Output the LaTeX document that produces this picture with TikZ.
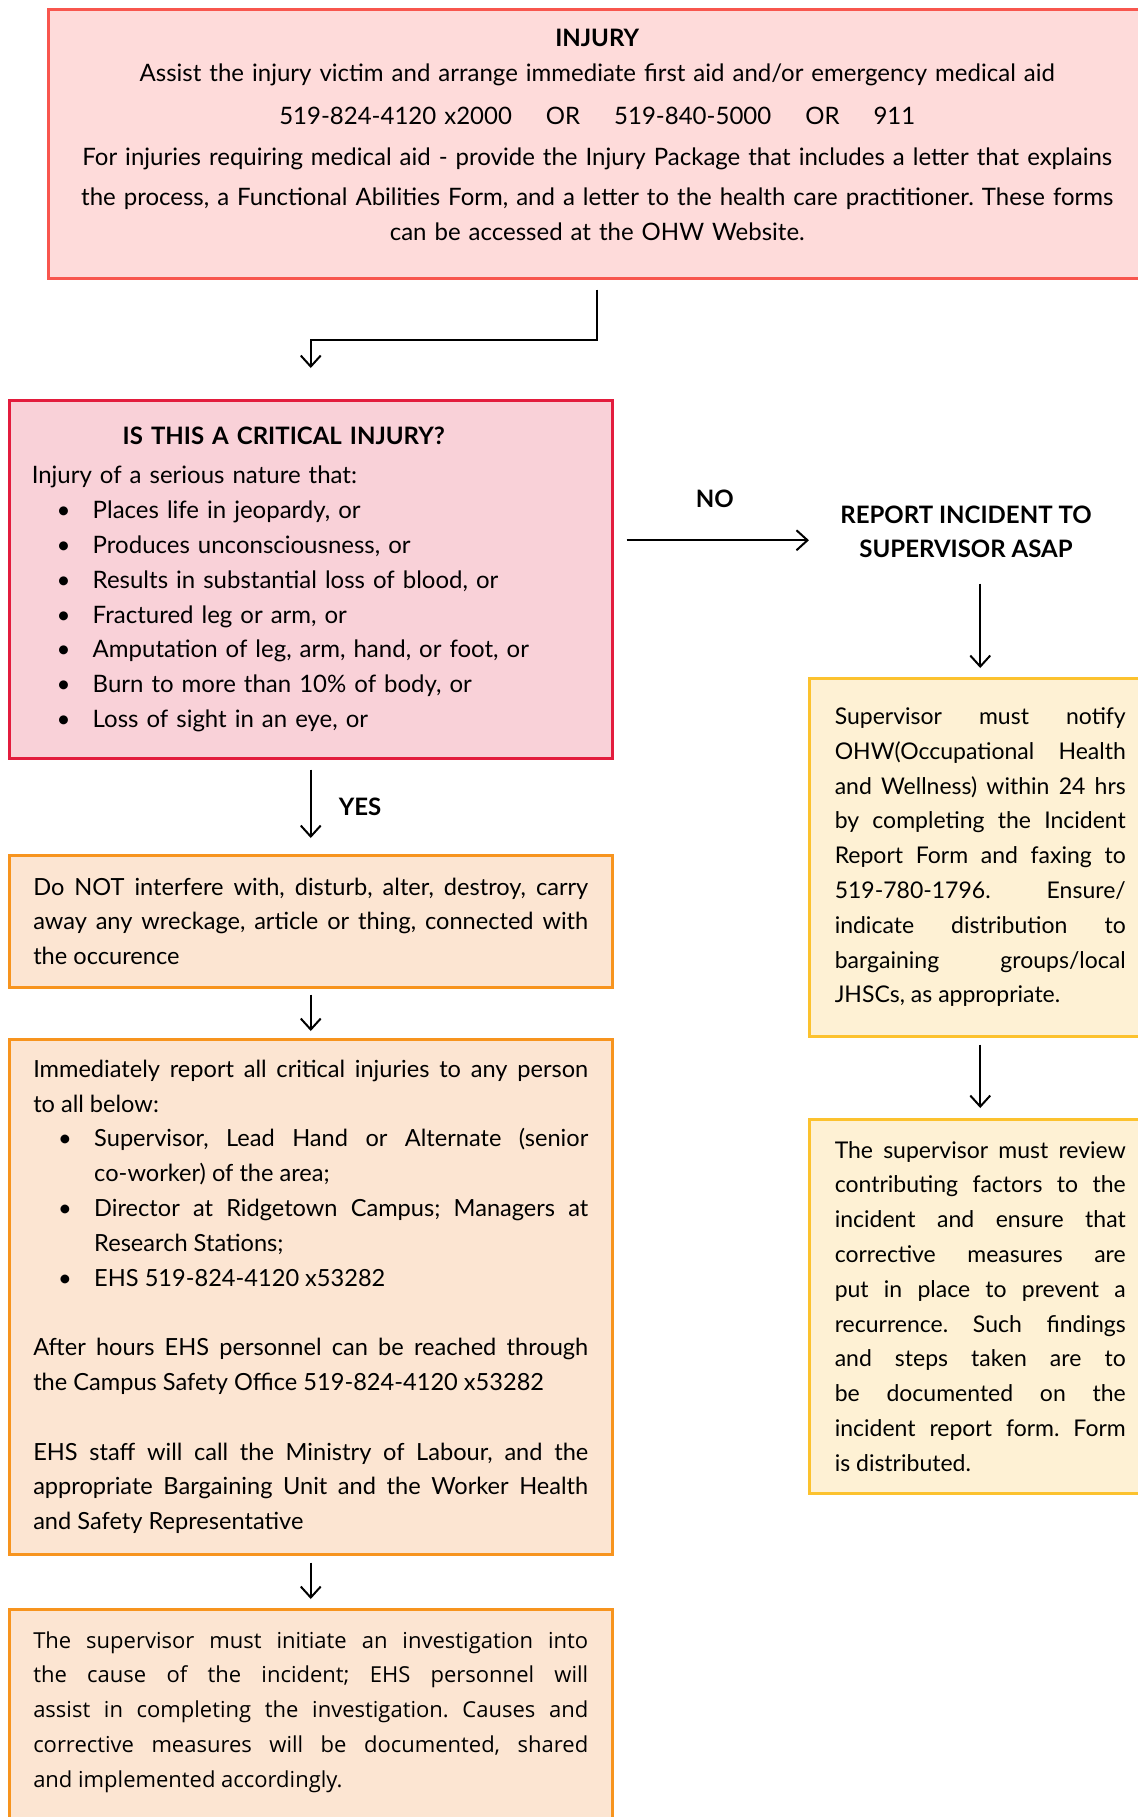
\documentclass[tikz,border=0pt]{standalone}
\usepackage{fontspec}
\setmainfont{Lato}
\newfontfamily\opensans{Open Sans}
\usetikzlibrary{positioning, arrows.meta, calc}

\definecolor{injFill}{HTML}{FEDBDA}
\definecolor{injLine}{HTML}{F8564E}
\definecolor{critFill}{HTML}{F9D1D8}
\definecolor{critLine}{HTML}{E31C3D}
\definecolor{stepFill}{HTML}{FCE5D2}
\definecolor{stepLine}{HTML}{F7941E}
\definecolor{noteFill}{HTML}{FEF1D4}
\definecolor{noteLine}{HTML}{FCC22E}

\setlength{\parindent}{0pt}
\frenchspacing
\hyphenpenalty=10000
\exhyphenpenalty=10000
\newcommand{\bul}{\hspace*{12.5pt}\makebox[18pt][l]{\textbullet}}
\newcommand{\hang}{\hangindent=30.5pt\hangafter=1}
\newcommand{\padbelow}[1]{\par\vspace{#1}\hrule height 0pt width 0pt}

\begin{document}
\begin{tikzpicture}[
  x=0.5pt, y=-0.5pt,
  basebox/.style={anchor=north west, line width=1.25pt, inner ysep=0pt,
                  font=\fontsize{12}{17.4}\selectfont},
  injbox/.style={basebox, draw=injLine, fill=injFill, align=center, text width=521pt,
                 inner xsep=14pt, minimum height=134.5pt},
  critbox/.style={basebox, draw=critLine, fill=critFill, align=left, text width=279pt,
                  inner xsep=11.25pt, minimum height=179pt},
  stepbox/.style={basebox, draw=stepLine, fill=stepFill, align=justify, text width=277.5pt,
                  inner xsep=12pt, font=\fontsize{11.8}{17.4}\selectfont},
  notebox/.style={basebox, draw=noteLine, fill=noteFill, align=justify, text width=145.5pt,
                  inner xsep=12.75pt, font=\fontsize{11.5}{17.4}\selectfont},
  arr/.style={-{Straight Barb[length=5.5pt, width=10pt]}, line width=1pt, black},
  lbl/.style={font=\bfseries\fontsize{12}{14}\selectfont, inner sep=0pt},
  head/.style={font=\bfseries\fontsize{12}{17.3}\selectfont, align=center, inner sep=0pt}
]
\useasboundingbox (0,0) rectangle (1138,1817);
\clip (0,0) rectangle (1138,1817);

% Nodes
\node[injbox] (injury) at (47,8) {{\bfseries INJURY}\\
  Assist the injury victim and arrange immediate first aid and/or emergency medical aid\\[4.5pt]
  519-824-4120 x2000\hspace{17pt}OR\hspace{17pt}519-840-5000\hspace{17pt}OR\hspace{17pt}911\\[3pt]
  For injuries requiring medical aid - provide the Injury Package that includes a letter that explains\\[2.5pt]
  the process, a Functional Abilities Form, and a letter to the health care practitioner. These forms\\
  can be accessed at the OHW Website.\padbelow{9pt}};

\node[critbox] (crit) at (8,399) {\makebox[252pt]{\bfseries IS THIS A CRITICAL INJURY?}\\[2.5pt]
  Injury of a serious nature that:\\
  \bul Places life in jeopardy, or\\
  \bul Produces unconsciousness, or\\
  \bul Results in substantial loss of blood, or\\
  \bul Fractured leg or arm, or\\
  \bul Amputation of leg, arm, hand, or foot, or\\
  \bul Burn to more than 10\% of body, or\\
  \bul Loss of sight in an eye, or};

\node[head] (incident) at (966,532) {REPORT INCIDENT TO\\SUPERVISOR ASAP};

\node[stepbox, minimum height=66pt] (scene) at (8,854) {Do NOT interfere with, disturb, alter, destroy, carry\linebreak
  away any wreckage, article or thing, connected with\linebreak the occurence};

\node[stepbox, minimum height=257.5pt] (alert) at (8,1038) {Immediately report all critical injuries to any person\linebreak to all below:\par
  \hang\bul Supervisor, Lead Hand or Alternate (senior\linebreak co-worker) of the area;\par
  \hang\bul Director at Ridgetown Campus; Managers at\linebreak Research Stations;\par
  \hang\bul EHS 519-824-4120 x53282\par
  \vspace{17.4pt}
  After hours EHS personnel can be reached through\linebreak the Campus Safety Office 519-824-4120 x53282\par
  \vspace{17.4pt}
  EHS staff will call the Ministry of Labour, and the\linebreak appropriate Bargaining Unit and the Worker Health\linebreak
  and Safety Representative};

\node[stepbox, font=\opensans\fontsize{11}{17.4}\selectfont, minimum height=112pt] (investigate) at (8,1608)
  {The supervisor must initiate an investigation into\linebreak the cause of the incident; EHS personnel will\linebreak
  assist in completing the investigation. Causes and\linebreak corrective measures will be documented, shared\linebreak
  and implemented accordingly.\padbelow{9.3pt}};

\node[notebox, minimum height=179pt] (notify) at (808,677) {Supervisor must notify\linebreak
  OHW(Occupational Health\linebreak and Wellness) within 24 hrs\linebreak by completing the Incident\linebreak
  Report Form and faxing to\linebreak 519-780-1796. Ensure/\linebreak indicate distribution to\linebreak
  bargaining groups/local\linebreak JHSCs, as appropriate.};

\node[notebox, minimum height=187pt] (review) at (808,1118) {The supervisor must review\linebreak
  contributing factors to the\linebreak incident and ensure that\linebreak corrective measures are\linebreak
  put in place to prevent a\linebreak recurrence. Such findings\linebreak and steps taken are to\linebreak
  be documented on the\linebreak incident report form. Form\linebreak is distributed.};

% Arrows
\draw[arr, shorten <=5pt, shorten >=15.5pt] (injury.south) -- ++(0,60) -| (crit.north);
\draw[arr, shorten <=5pt, shorten >=8pt] (crit) -- node[lbl, right=13.5pt] {YES} (scene);
\draw[arr, shorten <=6.5pt, shorten >=15.5pt] ([yshift=19.5pt]crit.east)
  -- node[lbl, above=16pt, xshift=-6pt] {NO} ([yshift=19.5pt]crit.east -| incident.west);
\draw[arr, shorten <=12.5pt, shorten >=4.5pt] (incident.south -| notify.north) -- (notify.north);
\draw[arr, shorten <=3.5pt, shorten >=5pt] (notify) -- (review);
\draw[arr, shorten <=3pt, shorten >=3.5pt] (scene) -- (alert);
\draw[arr, shorten <=3.5pt, shorten >=4.5pt] (alert) -- (investigate);

\end{tikzpicture}
\end{document}
